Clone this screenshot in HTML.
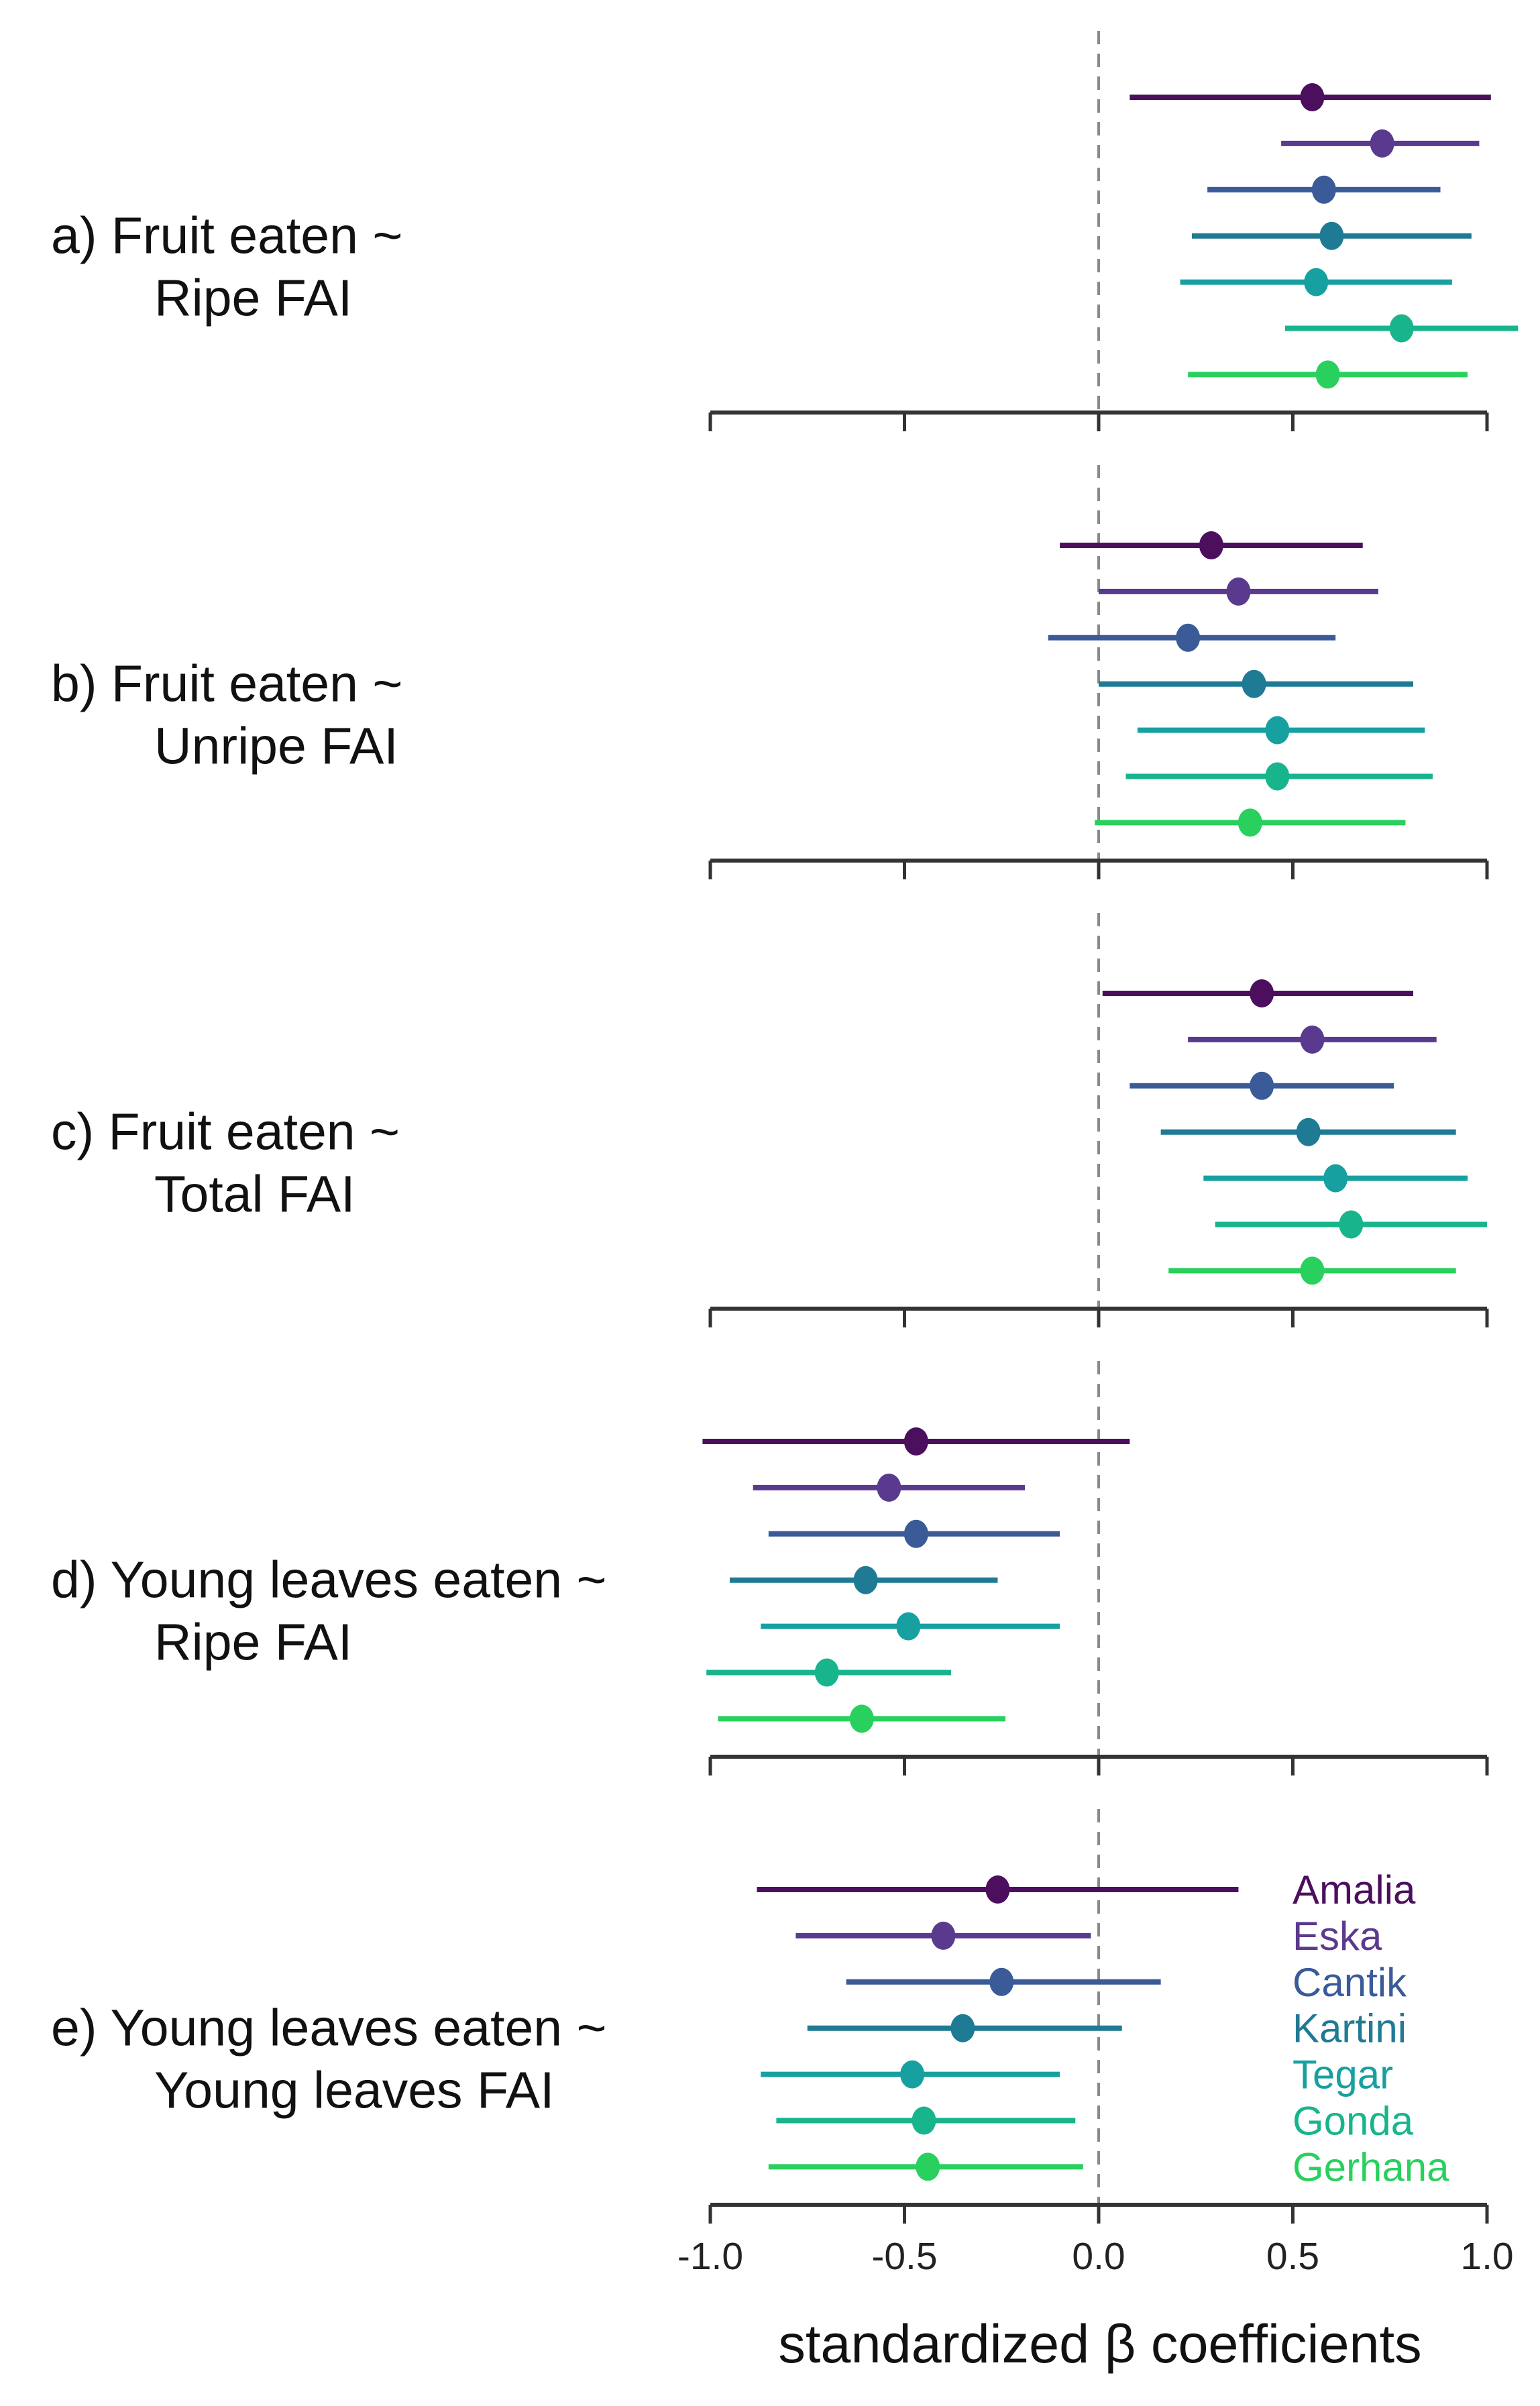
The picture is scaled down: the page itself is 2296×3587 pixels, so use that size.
<!DOCTYPE html>
<html><head><meta charset="utf-8">
<style>
html,body{margin:0;padding:0;background:#fff;}
svg{display:block;}
text{font-family:"Liberation Sans",sans-serif;}
</style></head>
<body>
<svg id="chart" width="2296" height="3587" viewBox="0 0 2296 3587" xmlns="http://www.w3.org/2000/svg"></svg>
<script>
const individuals = ["Amalia","Eska","Cantik","Kartini","Tegar","Gonda","Gerhana"];
const colors = ["#4b0f5e","#5a3a8e","#3a5a98","#1f7a94","#17a0a0","#18b48c","#2ad05e"];
const panelTitles1 = ["a) Fruit eaten ~","b) Fruit eaten ~","c) Fruit eaten ~","d) Young leaves eaten ~","e) Young leaves eaten ~"];
const panelTitles2 = ["Ripe FAI","Unripe FAI","Total FAI","Ripe FAI","Young leaves FAI"];
const estA = [0.55,0.73,0.58,0.60,0.56,0.78,0.59];
const lowA = [0.08,0.47,0.28,0.24,0.21,0.48,0.23];
const highA = [1.01,0.98,0.88,0.96,0.91,1.08,0.95];
const estB = [0.29,0.36,0.23,0.40,0.46,0.46,0.39];
const lowB = [-0.10,0.00,-0.13,0.00,0.10,0.07,-0.01];
const highB = [0.68,0.72,0.61,0.81,0.84,0.86,0.79];
const estC = [0.42,0.55,0.42,0.54,0.61,0.65,0.55];
const lowC = [0.01,0.23,0.08,0.16,0.27,0.30,0.18];
const highC = [0.81,0.87,0.76,0.92,0.95,1.00,0.92];
const estD = [-0.47,-0.54,-0.47,-0.60,-0.49,-0.70,-0.61];
const lowD = [-1.02,-0.89,-0.85,-0.95,-0.87,-1.01,-0.98];
const highD = [0.08,-0.19,-0.10,-0.26,-0.10,-0.38,-0.24];
const estE = [-0.26,-0.40,-0.25,-0.35,-0.48,-0.45,-0.44];
const lowE = [-0.88,-0.78,-0.65,-0.75,-0.87,-0.83,-0.85];
const highE = [0.36,-0.02,0.16,0.06,-0.10,-0.06,-0.04];
const tickValues = [-1.0,-0.5,0.0,0.5,1.0];
const tickLabels = ["-1.0","-0.5","0.0","0.5","1.0"];

const ests=[estA,estB,estC,estD,estE], lows=[lowA,lowB,lowC,lowD,lowE], highs=[highA,highB,highC,highD,highE];
const NS="http://www.w3.org/2000/svg";
const svg=document.getElementById('chart');
const X0=1638, UNIT=579;
function xs(v){return X0+v*UNIT;}
const PANEL_TOP=145, PANEL_STEP=668, ROW_STEP=68.9, AXIS_OFF=470;
function ys(p,i){return PANEL_TOP+p*PANEL_STEP+i*ROW_STEP;}
function mk(tag,attrs,parent){const e=document.createElementNS(NS,tag);for(const k in attrs)e.setAttribute(k,attrs[k]);(parent||svg).appendChild(e);return e;}

for(let p=0;p<5;p++){
  const g=mk('g',{});
  
  
  const axisY=PANEL_TOP+p*PANEL_STEP+AXIS_OFF;
  const zl=mk('line',{x1:xs(0),x2:xs(0),y1:(p===0?46:axisY-590),y2:axisY,stroke:'#8a8a8a','stroke-width':4,'stroke-dasharray':'20 14'},g);
  
  
  const ax=mk('line',{x1:xs(-1),x2:xs(1),y1:axisY,y2:axisY,stroke:'#333','stroke-width':6},g);
  
  
  tickValues.forEach((t,k)=>{
    const tk=mk('line',{x1:xs(t),x2:xs(t),y1:axisY,y2:axisY+28,stroke:'#333','stroke-width':5},g);
    
    
  });
  const t1=mk('text',{x:76,y:ys(p,3)+26,'font-size':77,fill:'#111'},g);
  t1.textContent=panelTitles1[p];
  
  
  const t2=mk('text',{x:230,y:ys(p,3)+119,'font-size':77,fill:'#111'},g);
  t2.textContent=panelTitles2[p];
  
  
  for(let i=0;i<individuals.length;i++){
    const y=ys(p,i);
    const ln=mk('line',{x1:xs(lows[p][i]),x2:xs(highs[p][i]),y1:y,y2:y,stroke:colors[i],'stroke-width':8},g);
    
    
    const dt=mk('ellipse',{cx:xs(ests[p][i]),cy:y,rx:18,ry:21,fill:colors[i]},g);
    
    
  }
}
const lastAxis=PANEL_TOP+4*PANEL_STEP+AXIS_OFF;
tickValues.forEach((t,k)=>{
  const tl=mk('text',{x:xs(t),y:lastAxis+96,'font-size':57,fill:'#222','text-anchor':'middle'});
  tl.textContent=tickLabels[k];
  
  
});
const xl=mk('text',{x:1640,y:3522,'font-size':81,fill:'#111','text-anchor':'middle'});
xl.textContent='standardized β coefficients';


individuals.forEach((n,i)=>{
  const lt=mk('text',{x:1927,y:ys(4,i)+21,'font-size':60,fill:colors[i]});
  lt.textContent=n;
  
  
});
</script>
</body></html>
